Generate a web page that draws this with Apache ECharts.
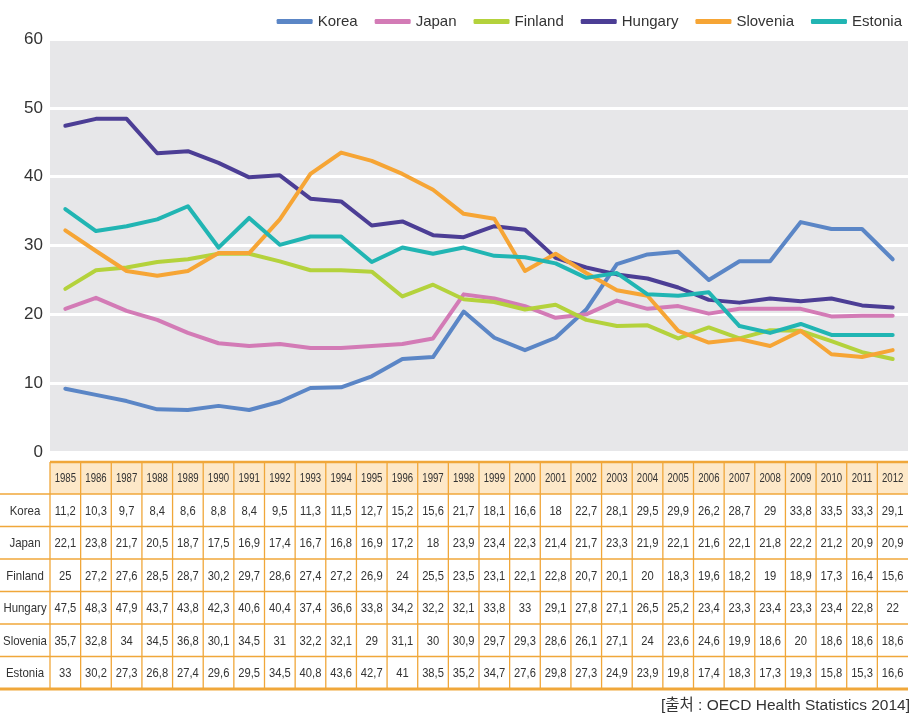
<!DOCTYPE html>
<html>
<head>
<meta charset="utf-8">
<script src="https://cdn.jsdelivr.net/npm/echarts@6/dist/echarts.min.js"></script>
<style>
  html, body { margin: 0; padding: 0; background: #fff; }
  #main { width: 914px; height: 718px; }
</style>
</head>
<body>
<div id="main"></div>
<script type="text/javascript">
    // 연도
    var years = ['1985', '1986', '1987', '1988', '1989', '1990', '1991', '1992', '1993', '1994',
        '1995', '1996', '1997', '1998', '1999', '2000', '2001', '2002', '2003', '2004',
        '2005', '2006', '2007', '2008', '2009', '2010', '2011', '2012'];
    var countries = ['Korea', 'Japan', 'Finland', 'Hungary', 'Slovenia', 'Estonia'];
    var colors = ['#5b86c6', '#d37bb6', '#b4d23c', '#4c3e95', '#f6a535', '#21b5b3'];

    // 그래프 선
    var korea    = [9.2, 8.3, 7.4, 6.2, 6.1, 6.7, 6.1, 7.3, 9.3, 9.4, 11.0, 13.5, 13.8, 20.4, 16.6, 14.8, 16.6, 20.7, 27.3, 28.7, 29.1, 25.0, 27.7, 27.7, 33.4, 32.4, 32.4, 28.0];
    var japan    = [20.8, 22.4, 20.5, 19.2, 17.3, 15.8, 15.4, 15.7, 15.1, 15.1, 15.4, 15.7, 16.5, 22.9, 22.3, 21.2, 19.5, 20.0, 22.0, 20.8, 21.2, 20.1, 20.8, 20.8, 20.8, 19.7, 19.8, 19.8];
    var finland  = [23.7, 26.4, 26.8, 27.6, 28.0, 28.8, 28.8, 27.7, 26.4, 26.4, 26.2, 22.6, 24.3, 22.2, 21.8, 20.7, 21.4, 19.2, 18.3, 18.4, 16.5, 18.1, 16.5, 17.7, 17.6, 16.1, 14.5, 13.5];
    var hungary  = [47.4, 48.4, 48.4, 43.4, 43.7, 42.0, 39.9, 40.2, 36.8, 36.4, 32.9, 33.5, 31.5, 31.2, 32.8, 32.3, 28.2, 26.8, 25.8, 25.2, 23.9, 22.1, 21.7, 22.3, 21.9, 22.3, 21.3, 21.0];
    var slovenia = [32.2, 29.2, 26.3, 25.6, 26.3, 28.9, 28.9, 33.8, 40.4, 43.5, 42.3, 40.4, 38.1, 34.6, 33.9, 26.3, 28.8, 26.0, 23.5, 22.7, 17.6, 15.9, 16.4, 15.4, 17.6, 14.2, 13.8, 14.8];
    var estonia  = [35.3, 32.1, 32.8, 33.8, 35.7, 29.7, 34.0, 30.1, 31.3, 31.3, 27.6, 29.7, 28.8, 29.7, 28.5, 28.3, 27.4, 25.3, 26.0, 22.9, 22.7, 23.2, 18.3, 17.3, 18.6, 17.0, 17.0, 17.0];

    // 표 (그림 아래 표에 적힌 값)
    var tblKorea    = [11.2, 10.3, 9.7, 8.4, 8.6, 8.8, 8.4, 9.5, 11.3, 11.5, 12.7, 15.2, 15.6, 21.7, 18.1, 16.6, 18, 22.7, 28.1, 29.5, 29.9, 26.2, 28.7, 29, 33.8, 33.5, 33.3, 29.1];
    var tblJapan    = [22.1, 23.8, 21.7, 20.5, 18.7, 17.5, 16.9, 17.4, 16.7, 16.8, 16.9, 17.2, 18, 23.9, 23.4, 22.3, 21.4, 21.7, 23.3, 21.9, 22.1, 21.6, 22.1, 21.8, 22.2, 21.2, 20.9, 20.9];
    var tblFinland  = [25, 27.2, 27.6, 28.5, 28.7, 30.2, 29.7, 28.6, 27.4, 27.2, 26.9, 24, 25.5, 23.5, 23.1, 22.1, 22.8, 20.7, 20.1, 20, 18.3, 19.6, 18.2, 19, 18.9, 17.3, 16.4, 15.6];
    var tblHungary  = [47.5, 48.3, 47.9, 43.7, 43.8, 42.3, 40.6, 40.4, 37.4, 36.6, 33.8, 34.2, 32.2, 32.1, 33.8, 33, 29.1, 27.8, 27.1, 26.5, 25.2, 23.4, 23.3, 23.4, 23.3, 23.4, 22.8, 22];
    var tblSlovenia = [35.7, 32.8, 34, 34.5, 36.8, 30.1, 34.5, 31, 32.2, 32.1, 29, 31.1, 30, 30.9, 29.7, 29.3, 28.6, 26.1, 27.1, 24, 23.6, 24.6, 19.9, 18.6, 20, 18.6, 18.6, 18.6];
    var tblEstonia  = [33, 30.2, 27.3, 26.8, 27.4, 29.6, 29.5, 34.5, 40.8, 43.6, 42.7, 41, 38.5, 35.2, 34.7, 27.6, 29.8, 27.3, 24.9, 23.9, 19.8, 17.4, 18.3, 17.3, 19.3, 15.8, 15.3, 16.6];

    var lines = [korea, japan, finland, hungary, slovenia, estonia];
    var tbl = [tblKorea, tblJapan, tblFinland, tblHungary, tblSlovenia, tblEstonia];

    var font = '"Liberation Sans", Arial, sans-serif';

    var myChart = echarts.init(document.getElementById('main'));

    var series = [];
    for (var i = 0; i < countries.length; i++) {
        series.push({
            name: countries[i],
            type: 'line',
            data: lines[i],
            symbol: 'none',
            lineStyle: { width: 4, color: colors[i], cap: 'round', join: 'round' },
            itemStyle: { color: colors[i] }
        });
    }

    var option = {
        animation: false,
        color: colors,
        legend: {
            data: countries,
            right: 7,
            top: 9,
            icon: 'roundRect',
            itemWidth: 36,
            itemHeight: 5,
            itemGap: 17,
            textStyle: { fontSize: 15, color: '#333', fontFamily: font }
        },
        grid: {
            left: 50,
            top: 39,
            width: 858,
            height: 413,
            show: true,
            backgroundColor: '#e7e7e9',
            borderWidth: 0
        },
        xAxis: {
            type: 'category',
            data: years,
            boundaryGap: true,
            axisLine: { show: false },
            axisTick: { show: false },
            axisLabel: { show: false }
        },
        yAxis: {
            type: 'value',
            min: 0,
            max: 60,
            interval: 10,
            axisLine: { show: false },
            axisTick: { show: false },
            axisLabel: { fontSize: 17, color: '#333', fontFamily: font, margin: 7 },
            splitLine: { lineStyle: { color: '#ffffff', width: 3 } }
        },
        series: series
    };
    myChart.setOption(option);

    // 표 그리기
    var orange = '#f0a73a';
    var colW = 858 / years.length;
    var headTop = 462, headH = 32, rowH = 32.5;
    var els = [];

    function cell(x, y, txt, size, sx) {
        return { type: 'text', x: x, y: y, scaleX: sx, silent: true,
            style: { text: txt, fontSize: size, fill: '#333', fontFamily: font,
                align: 'center', verticalAlign: 'middle' } };
    }

    els.push({ type: 'rect', shape: { x: 50, y: headTop, width: 858, height: headH },
        style: { fill: '#fde8c8' }, silent: true });

    for (var r = 0; r <= countries.length; r++) {
        var yy = headTop + headH + r * rowH;
        els.push({ type: 'line', shape: { x1: 0, y1: yy, x2: 908, y2: yy },
            style: { stroke: orange, lineWidth: r === countries.length ? 3 : 1.3 }, silent: true });
    }
    els.push({ type: 'line', shape: { x1: 50, y1: headTop, x2: 908, y2: headTop },
        style: { stroke: orange, lineWidth: 2.5 }, silent: true });

    var bottomY = headTop + headH + countries.length * rowH;
    for (var k = 0; k < years.length; k++) {
        var xx = 50 + k * colW;
        els.push({ type: 'line', shape: { x1: xx, y1: headTop, x2: xx, y2: bottomY },
            style: { stroke: orange, lineWidth: 1.3 }, silent: true });
    }

    for (var c = 0; c < years.length; c++) {
        var cx = myChart.convertToPixel({ xAxisIndex: 0 }, c);
        els.push(cell(cx, headTop + headH / 2 + 1, years[c], 12, 0.8));
        for (var r2 = 0; r2 < countries.length; r2++) {
            els.push(cell(cx, headTop + headH + r2 * rowH + rowH / 2 + 1,
                String(tbl[r2][c]).replace('.', ','), 13, 0.86));
        }
    }
    for (var r3 = 0; r3 < countries.length; r3++) {
        els.push(cell(25, headTop + headH + r3 * rowH + rowH / 2 + 1, countries[r3], 13, 0.88));
    }

    els.push({ type: 'text', x: 910, y: 706, silent: true,
        style: { text: '[출처 : OECD Health Statistics 2014]', fontSize: 15.5, fill: '#333',
            fontFamily: '"Liberation Sans", "Noto Sans CJK KR", sans-serif',
            align: 'right', verticalAlign: 'middle' } });

    myChart.setOption({ graphic: { elements: els } });
</script>
</body>
</html>
